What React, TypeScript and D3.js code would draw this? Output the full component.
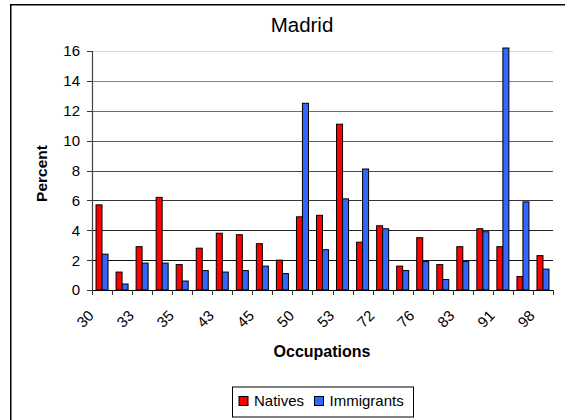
import React from "react";
import * as d3 from "d3";

const categories = ["30","31","33","34","35","41","43","44","45","46","50","51","53","54","72","73","76","79","83","84","91","93","98"];
const natives = [5.7,1.2,2.9,6.2,1.7,2.8,3.8,3.7,3.1,2.0,4.9,5.0,11.1,3.2,4.3,1.6,3.5,1.7,2.9,4.1,2.9,0.9,2.3];
const immigrants = [2.4,0.4,1.8,1.8,0.6,1.3,1.2,1.3,1.6,1.1,12.5,2.7,6.1,8.1,4.1,1.3,1.9,0.7,1.9,3.9,16.2,5.9,1.4];
const yTicks = [0,2,4,6,8,10,12,14,16];
const seriesNames = ["Natives","Immigrants"];

const W = 565, H = 420;
const left = 92, right = 553, top = 51, bottom = 290;
const FONT = "'Liberation Sans', Arial, sans-serif";
const colors: Record<string,string> = { Natives: "#FF0000", Immigrants: "#3366FF" };

export default function App() {
  const x = d3.scaleBand<string>().domain(categories).range([left, right]).padding(0);
  const xs = d3.scaleBand<string>().domain(seriesNames).range([0, x.bandwidth()]).paddingInner(0).paddingOuter(0.67);
  const y = d3.scaleLinear().domain([0, 16]).range([bottom, top]);
  const gridColor = (v: number) => v === 16 ? "#d9d9d9" : d3.interpolateRgb("#000000", "#808080")(v / 14);
  const series = [natives, immigrants];

  return (
    <svg width={W} height={H} style={{ position: "absolute", left: 0, top: 0, background: "#fff" }} fontFamily={FONT}>
      <rect x={10.75} y={4.75} width={700} height={600} fill="#fff" stroke="#000" strokeWidth={1.5} />
      <text x={302} y={32} textAnchor="middle" fontSize={20.5} fill="#000">Madrid</text>
      {/* gridlines */}
      {yTicks.filter(v => v > 0).map(v => (
        <line key={"g" + v} x1={left} x2={right} y1={Math.round(y(v)) + 0.5} y2={Math.round(y(v)) + 0.5} stroke={gridColor(v)} strokeWidth={1.2} />
      ))}
      {/* y ticks */}
      {yTicks.map(v => (
        <g key={"yt" + v}>
          <line x1={left - 5} x2={left} y1={Math.round(y(v)) + 0.5} y2={Math.round(y(v)) + 0.5} stroke="#333" strokeWidth={1} />
          <text x={80} y={y(v)} dy="0.36em" textAnchor="end" fontSize={15} fill="#000">{v}</text>
        </g>
      ))}
      {/* bars */}
      {series.map((vals, si) => vals.map((v, i) => {
        const name = seriesNames[si];
        const bx = (x(categories[i]) as number) + (xs(name) as number);
        return (
          <rect key={name + i} x={bx} y={y(v)} width={xs.bandwidth()} height={y(0) - y(v)}
            fill={colors[name]} stroke="#000" strokeWidth={1} />
        );
      }))}
      {/* axes */}
      <line x1={left + 0.5} x2={left + 0.5} y1={top} y2={bottom} stroke="#444" strokeWidth={1.2} />
      <line x1={left} x2={right} y1={bottom + 0.5} y2={bottom + 0.5} stroke="#000" strokeWidth={1.2} />
      {d3.range(categories.length + 1).map(i => {
        const xx = Math.round(left + i * x.step()) + 0.5;
        return <line key={"xt" + i} x1={xx} x2={xx} y1={bottom} y2={bottom + 5} stroke="#333" strokeWidth={1} />;
      })}
      {categories.map((c, i) => {
        if (i % 2 !== 0) return null;
        const cx = (x(c) as number) + x.bandwidth() / 2 - 11;
        const cy = 313;
        return (
          <text key={"xl" + c} x={cx} y={cy} dy="0.35em" textAnchor="end" fontSize={15} fill="#000"
            transform={`rotate(-45 ${cx} ${cy})`}>{c}</text>
        );
      })}
      <text transform={`translate(47 ${(top + bottom) / 2 + 3}) rotate(-90)`} textAnchor="middle" fontSize={15.5} fontWeight="bold" fill="#000">Percent</text>
      <text x={322} y={357} textAnchor="middle" fontSize={16} fontWeight="bold" fill="#000">Occupations</text>
      {/* legend */}
      <rect x={232.5} y={387} width={181} height={30} fill="#fff" stroke="#000" strokeWidth={1} />
      {seriesNames.map((n, i) => {
        const lx = [238.5, 314][i];
        return (
          <g key={"lg" + n}>
            <rect x={lx + 0.5} y={396.5} width={9} height={9} fill={colors[n]} stroke="#000" strokeWidth={1} />
            <text x={lx + 15.5} y={406} fontSize={15} fill="#000">{n}</text>
          </g>
        );
      })}
    </svg>
  );
}
